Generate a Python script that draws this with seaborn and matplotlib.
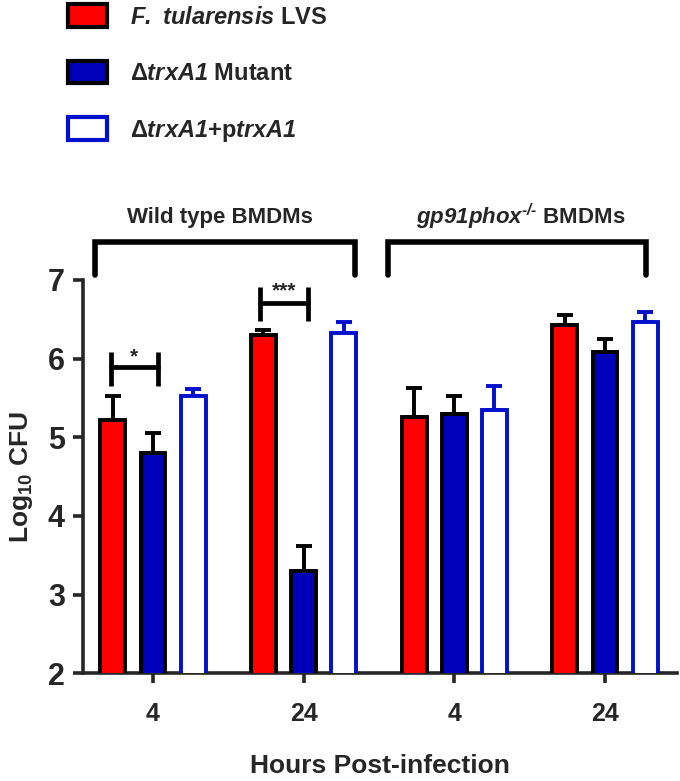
import matplotlib
matplotlib.use("Agg")
import matplotlib.pyplot as plt
import seaborn as sns
import pandas as pd
import numpy as np
from matplotlib.patches import Patch

# ---- data ----
groups = ["WT 4", "WT 24", "gp91 4", "gp91 24"]
tick_labels = ["4", "24", "4", "24"]
strains = ["LVS", "Mutant", "Complement"]
lvs_mean = [5.22, 6.30, 5.26, 6.43]
lvs_err = [0.30, 0.07, 0.37, 0.13]
mut_mean = [4.80, 3.30, 5.29, 6.08]
mut_err = [0.25, 0.32, 0.23, 0.17]
comp_mean = [5.52, 6.33, 5.35, 6.46]
comp_err = [0.09, 0.13, 0.30, 0.13]

sns.set_style("ticks")
plt.rcParams['font.family'] = ['Liberation Sans', 'DejaVu Sans']
plt.rcParams['font.weight'] = 'bold'
plt.rcParams['mathtext.fontset'] = 'custom'
plt.rcParams['mathtext.rm'] = 'Liberation Sans:bold'
plt.rcParams['mathtext.it'] = 'Liberation Sans:italic:bold'
plt.rcParams['mathtext.sf'] = 'Liberation Sans:italic:bold'
plt.rcParams['mathtext.bf'] = 'Liberation Sans:bold'

rows = []
for s, means, errs in [(strains[0], lvs_mean, lvs_err), (strains[1], mut_mean, mut_err), (strains[2], comp_mean, comp_err)]:
    for g, m, e in zip(groups, means, errs):
        rows.append({"group": g, "strain": s, "value": m, "err": e})
df = pd.DataFrame(rows)

RED = "#FF0000"
BLUE = "#0000BB"
EDGE_BLUE = "#0010CC"
fills = {"LVS": RED, "Mutant": BLUE, "Complement": "white"}
edges = {"LVS": "black", "Mutant": "black", "Complement": EDGE_BLUE}

fig = plt.figure(figsize=(6.8, 7.81), dpi=100)
ax = fig.add_axes([0.122, 0.138, 0.874, 0.5035])

sns.barplot(data=df, x="group", y="value", hue="strain", order=groups, hue_order=strains,
            palette=fills, errorbar=None, gap=0.38, ax=ax, legend=False, zorder=3)

bars = [p for p in ax.patches]
for i, s in enumerate(strains):
    sub = df[df.strain == s].set_index("group").loc[groups]
    for j, g in enumerate(groups):
        p = bars[i * len(groups) + j]
        p.set_facecolor(fills[s])
        p.set_edgecolor(edges[s])
        p.set_linewidth(2.8)
        xc = p.get_x() + p.get_width() / 2
        top = p.get_height()
        ax.errorbar([xc], [top], yerr=[[0], [sub.loc[g, "err"]]], fmt='none',
                    ecolor=edges[s], elinewidth=2.8, capsize=5.5, capthick=2.8, zorder=2)

ax.set_xlim(-0.465, 3.48)
ax.set_ylim(2, 7)
ax.set_yticks([2, 3, 4, 5, 6, 7])
ax.set_xticks(range(len(groups)))
ax.set_xticklabels(tick_labels)
ax.tick_params(axis='both', width=2.6, length=7)
ax.tick_params(axis='y', labelsize=22, pad=6)
ax.tick_params(axis='x', pad=14, labelsize=18)
for lab in ax.get_xticklabels() + ax.get_yticklabels():
    lab.set_fontweight('bold')
sns.despine(ax=ax)
ax.spines['left'].set_linewidth(2.6)
ax.spines['bottom'].set_linewidth(2.6)
ax.set_xlabel("Hours Post-infection", fontsize=19, fontweight='bold', labelpad=20)
ax.set_ylabel(r"Log$_{10}$ CFU", fontsize=19, fontweight='bold', labelpad=9)

def sig(x1, x2, ylo, yhi, ymid, text, ty):
    ax.plot([x1, x1], [ylo, yhi], color='black', lw=3.4, clip_on=False, solid_capstyle='butt')
    ax.plot([x2, x2], [ylo, yhi], color='black', lw=3.4, clip_on=False, solid_capstyle='butt')
    ax.plot([x1, x2], [ymid, ymid], color='black', lw=3.4, clip_on=False)
    ax.text((x1 + x2) / 2, ty, text, ha='center', va='center', fontsize=15, fontweight='bold')

r0 = bars[0]; b0 = bars[4]
sig(r0.get_x() + r0.get_width() / 2 - 0.015, b0.get_x() + b0.get_width() / 2 + 0.03, 5.65, 6.08, 5.89, "*", 6.02)
r1 = bars[1]; b1 = bars[5]
sig(r1.get_x() + r1.get_width() / 2 - 0.02, b1.get_x() + b1.get_width() / 2 + 0.03, 6.48, 6.91, 6.71, "***", 6.86)

def group_bracket(x1, x2, text, tx):
    ax.plot([x1, x1, x2, x2], [7.06, 7.48, 7.48, 7.06], color='black', lw=4, clip_on=False,
            solid_capstyle='round', solid_joinstyle='miter')
    ax.text(tx, 7.80, text, ha='center', va='center', fontsize=16, fontweight='bold', clip_on=False)

group_bracket(-0.385, 1.34, "Wild type BMDMs", 0.445)
group_bracket(1.56, 3.27, r"$\mathsf{gp91phox}^{\mathsf{‐/‐}}$ BMDMs", 2.44)

handles = [Patch(facecolor=fills[s], edgecolor=edges[s], linewidth=3) for s in strains]
labels = [r"$\mathsf{F.\ tularensis}$ LVS", r"Δ$\mathsf{trxA1}$ Mutant", r"Δ$\mathsf{trxA1}$+p$\mathsf{trxA1}$"]
fig.legend(handles, labels, loc='upper left', bbox_to_anchor=(0.095, 0.999), bbox_transform=fig.transFigure,
           frameon=False, fontsize=17, handlelength=1.65, handleheight=1.1, handletextpad=0.95,
           labelspacing=1.36, borderpad=0.15, borderaxespad=0)

fig.savefig("out.png", dpi=100)
